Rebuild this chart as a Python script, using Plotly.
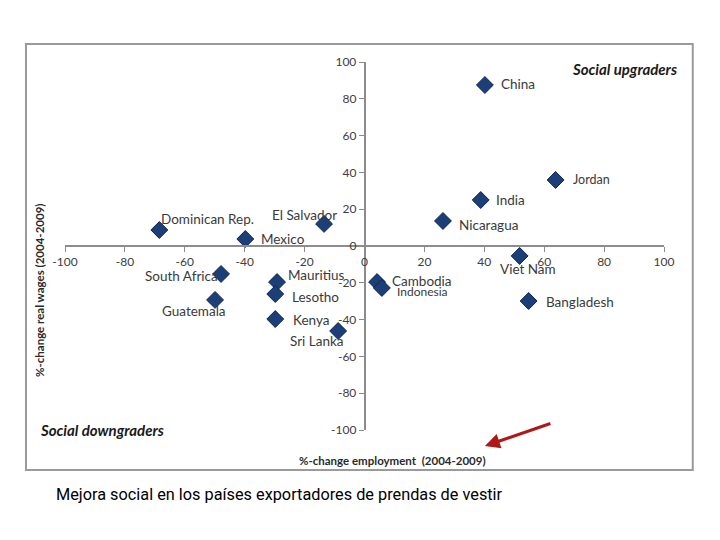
import plotly.graph_objects as go

countries = ["China", "Jordan", "India", "Nicaragua", "Viet Nam", "Bangladesh",
             "Cambodia", "Indonesia", "Dominican Rep.", "Mexico", "El Salvador",
             "South Africa", "Guatemala", "Mauritius", "Lesotho", "Kenya", "Sri Lanka"]
employment = [40.2, 63.8, 38.8, 26.2, 51.8, 54.8, 4.2, 5.8, -68.5, -39.8, -13.5,
              -47.9, -49.9, -29.2, -29.8, -29.8, -8.8]
wages = [87.5, 35.9, 25.0, 13.6, -5.4, -29.9, -19.6, -22.8, 8.7, 3.8, 12.0,
         -15.2, -29.3, -19.6, -26.1, -39.7, -46.2]
tick_vals = [-100, -80, -60, -40, -20, 0, 20, 40, 60, 80, 100]
tick_text = [str(v) for v in tick_vals]

# label placement (pixel offsets from marker, anchor, font size)
label_style = {
    "China": (14, 1, "left", 13.5),
    "Jordan": (15, 0, "left", 12.5),
    "India": (13, 0, "left", 13.5),
    "Nicaragua": (14, -4, "left", 13.5),
    "Viet Nam": (8, -13, "center", 13.5),
    "Bangladesh": (15, -1, "left", 13.5),
    "Cambodia": (13, 1, "left", 13.5),
    "Indonesia": (13, -4, "left", 12),
    "Dominican Rep.": (0, 11, "left", 13.5),
    "Mexico": (14, 0, "left", 13.5),
    "El Salvador": (15, 9, "right", 13.5),
    "South Africa": (-1, -2, "right", 13.5),
    "Guatemala": (13, -11, "right", 13.5),
    "Mauritius": (9, 7, "left", 13.5),
    "Lesotho": (15, -3, "left", 13.5),
    "Kenya": (16, -1, "left", 13.5),
    "Sri Lanka": (8, -10, "right", 13.5),
}

FONT = "Lato"
fig = go.Figure()
fig.add_trace(go.Scatter(
    x=employment, y=wages, mode="markers",
    marker=dict(symbol="diamond", size=13, color="#1d3f78",
                line=dict(color="#0e2652", width=1)),
    hoverinfo="text", text=countries, showlegend=False))

annotations = []
for name, xv, yv in zip(countries, employment, wages):
    dx, dy, anchor, fs = label_style[name]
    annotations.append(dict(x=xv, y=yv, xref="x", yref="y", text=name,
                            showarrow=False, xanchor=anchor, yanchor="middle",
                            xshift=dx, yshift=dy,
                            font=dict(family=FONT, size=fs, color="#3a3a3a")))

annotations += [
    dict(x=1.025, y=0.981, xref="paper", yref="paper", text="<b><i>Social upgraders</i></b>",
         showarrow=False, xanchor="right", yanchor="middle",
         font=dict(family=FONT, size=15, color="#1a1a1a")),
    dict(x=-0.045, y=0.0, xref="paper", yref="paper", text="<b><i>Social downgraders</i></b>",
         showarrow=False, xanchor="left", yanchor="middle",
         font=dict(family=FONT, size=15, color="#1a1a1a")),
    dict(x=-0.0417, y=0.378, xref="paper", yref="paper", text="<b>%-change real wages (2004-2009)</b>",
         showarrow=False, textangle=-90, xanchor="center", yanchor="middle",
         font=dict(family=FONT, size=11.5, color="#2a2a2a")),
    dict(x=0.546, y=-0.084, xref="paper", yref="paper", text="<b>%-change employment  (2004-2009)</b>",
         showarrow=False, xanchor="center", yanchor="middle",
         font=dict(family=FONT, size=11.5, color="#2a2a2a")),
    dict(x=0.701, y=-0.0435, xref="paper", yref="paper", text="", showarrow=True,
         ax=67, ay=-23, arrowhead=2, arrowsize=1, arrowwidth=3, arrowcolor="#b01818"),
    dict(x=-0.0184, y=-0.174, xref="paper", yref="paper",
         text="Mejora social en los países exportadores de prendas de vestir",
         showarrow=False, xanchor="left", yanchor="middle",
         font=dict(family="Roboto", size=16.3, color="#000000")),
]

axis_common = dict(range=[-100, 100], tickmode="array", tickvals=tick_vals, ticktext=tick_text,
                   showgrid=False, zeroline=False, showline=True, linecolor="#8c8c8c",
                   linewidth=1.5, ticks="outside", ticklen=5, tickcolor="#8c8c8c",
                   tickfont=dict(family=FONT, size=12, color="#404040"),
                   anchor="free", position=0.5, fixedrange=True)

fig.update_layout(
    width=720, height=540,
    margin=dict(l=57, r=64, t=54, b=118),
    paper_bgcolor="white", plot_bgcolor="white",
    xaxis=axis_common,
    yaxis=axis_common,
    annotations=annotations,
    shapes=[dict(type="rect", xref="paper", yref="paper",
                 x0=-0.0651, x1=1.048, y0=-0.1087, y1=1.0489,
                 line=dict(color="#9a9a9a", width=2), fillcolor="rgba(0,0,0,0)")],
)

fig.write_html("out.html")
